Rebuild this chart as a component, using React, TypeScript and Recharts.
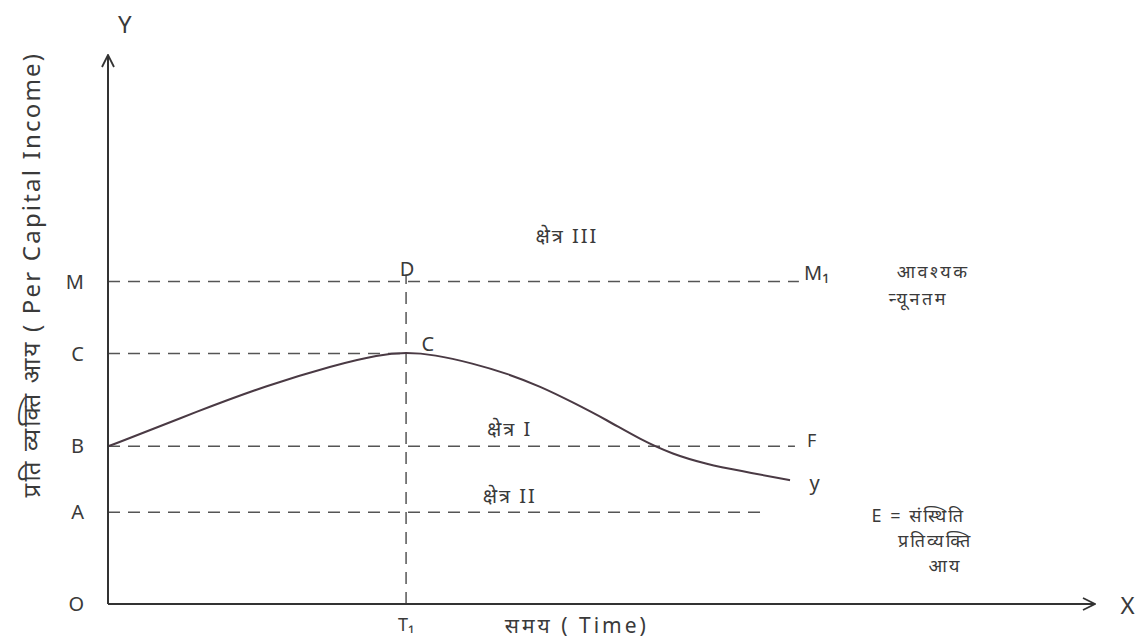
import React from 'react';
import {
  ComposedChart,
  Line,
  XAxis,
  YAxis,
  ReferenceLine,
  ReferenceDot,
  Label,
} from 'recharts';

// income levels marked on the Y axis
const levelNames = ['O', 'A', 'B', 'C', 'M'];
const levelValues = [0, 18.4, 31.6, 50.2, 64.6];

// time T1 where income peaks
const timeT1 = 30.2;

// per capita income path over time
const curveTime = [0, 0.5, 9.3, 16.1, 22.8, 27.5, 30.2, 33, 37, 40.4, 43.8, 47.1, 50.6, 53.9, 57.2, 60.7, 64, 68.6, 69.1];
const curveIncome = [31.6, 31.9, 38.8, 43.8, 47.8, 50.0, 50.4, 50.0, 48.2, 46.2, 43.6, 40.4, 36.8, 33.0, 30.0, 28.0, 26.7, 25.0, 24.8];

// where the dashed guides stop
const guideEndM = 70;
const guideEndB = 69.6;
const guideEndA = 66.6;
const guideTopT1 = 66;

const INK = '#3a3a3a';
const FONT = '"Noto Sans", "DejaVu Sans", sans-serif';

const level = (name: string) => levelValues[levelNames.indexOf(name)];

const curveData = curveTime.map((t, i) => ({ t, income: curveIncome[i] }));

type Note = { text: string; t: number; v: number; size?: number; spacing?: number; rotate?: boolean };

const notes: Note[] = [
  { text: 'Y', t: 1.7, v: 116.4, size: 24 },
  { text: 'X', t: 103.3, v: 0, size: 24 },
  { text: 'प्रति व्यक्ति आय ( Per Capital Income)', t: -7.9, v: 66, size: 24, spacing: 2.2, rotate: true },
  { text: 'समय   ( Time)', t: 47.5, v: -4.2, size: 21, spacing: 3 },
  { text: 'क्षेत्र III', t: 46.5, v: 73.8, size: 20, spacing: 2 },
  { text: 'क्षेत्र I', t: 40.7, v: 35.2, size: 20, spacing: 2 },
  { text: 'क्षेत्र II', t: 40.7, v: 21.8, size: 20, spacing: 2 },
  { text: 'D', t: 30.3, v: 67.2, size: 20 },
  { text: 'C', t: 32.4, v: 52.2, size: 20 },
  { text: 'M₁', t: 71.8, v: 66.4, size: 20 },
  { text: 'F', t: 71.3, v: 32.8, size: 18 },
  { text: 'y', t: 71.6, v: 24.4, size: 20 },
  { text: 'आवश्यक', t: 83.6, v: 66.8, size: 18, spacing: 2.5 },
  { text: 'न्यूनतम', t: 82.1, v: 61.4, size: 18, spacing: 2.5 },
  { text: 'E = संस्थिति', t: 82.1, v: 17.8, size: 18, spacing: 2 },
  { text: 'प्रतिव्यक्ति', t: 83.8, v: 12.8, size: 18, spacing: 2 },
  { text: 'आय', t: 84.8, v: 7.8, size: 18, spacing: 2 },
];

const renderNote = (note: Note) => (props: any) => {
  const vb = props.viewBox || {};
  const cx = (vb.x ?? 0) + (vb.width ?? 0) / 2;
  const cy = (vb.y ?? 0) + (vb.height ?? 0) / 2;
  return (
    <text
      x={cx}
      y={cy}
      fill={INK}
      fontSize={note.size ?? 18}
      fontFamily={FONT}
      letterSpacing={note.spacing ?? 0}
      textAnchor="middle"
      dominantBaseline="central"
      transform={note.rotate ? `rotate(-90 ${cx} ${cy})` : undefined}
    >
      {note.text}
    </text>
  );
};

const dashed = { stroke: '#555', strokeWidth: 1.5, strokeDasharray: '12 8' };

export default function App() {
  return (
    <div style={{ position: 'absolute', left: 0, top: 0, background: '#fff' }}>
      <ComposedChart
        width={1145}
        height={638}
        data={curveData}
        margin={{ top: 55, right: 50, bottom: 4, left: 48 }}
      >
        <defs>
          <marker
            id="axisArrow"
            viewBox="0 0 14 14"
            refX="13"
            refY="7"
            markerWidth="14"
            markerHeight="14"
            markerUnits="userSpaceOnUse"
            orient="auto-start-reverse"
          >
            <path d="M1,1 L13,7 L1,13" fill="none" stroke="#333" strokeWidth="1.8" />
          </marker>
        </defs>
        <XAxis
          type="number"
          dataKey="t"
          domain={[0, 100]}
          ticks={[timeT1]}
          tickFormatter={() => 'T₁'}
          height={30}
          tickLine={false}
          tickMargin={8}
          tick={{ fill: INK, fontSize: 18, fontFamily: FONT }}
          axisLine={{ stroke: '#333', strokeWidth: 2, markerEnd: 'url(#axisArrow)' }}
        />
        <YAxis
          type="number"
          domain={[0, 110]}
          ticks={levelValues}
          tickFormatter={(v: number) => levelNames[levelValues.indexOf(v)]}
          width={60}
          tickLine={false}
          tickMargin={18}
          tick={{ fill: INK, fontSize: 20, fontFamily: FONT }}
          axisLine={{ stroke: '#333', strokeWidth: 2, markerStart: 'url(#axisArrow)' }}
        />

        <ReferenceLine segment={[{ x: 0, y: level('M') }, { x: guideEndM, y: level('M') }]} {...dashed} />
        <ReferenceLine segment={[{ x: 0, y: level('C') }, { x: timeT1, y: level('C') }]} {...dashed} />
        <ReferenceLine segment={[{ x: 0, y: level('B') }, { x: guideEndB, y: level('B') }]} {...dashed} />
        <ReferenceLine segment={[{ x: 0, y: level('A') }, { x: guideEndA, y: level('A') }]} {...dashed} />
        <ReferenceLine segment={[{ x: timeT1, y: 0 }, { x: timeT1, y: guideTopT1 }]} {...dashed} />

        <Line
          type="basis"
          dataKey="income"
          stroke="#4a3a44"
          strokeWidth={2}
          dot={false}
          isAnimationActive={false}
        />

        {notes.map((n) => (
          <ReferenceDot
            key={n.text}
            x={n.t}
            y={n.v}
            r={0}
            fill="none"
            stroke="none"
            ifOverflow="visible"
          >
            <Label content={renderNote(n)} />
          </ReferenceDot>
        ))}
      </ComposedChart>
    </div>
  );
}
